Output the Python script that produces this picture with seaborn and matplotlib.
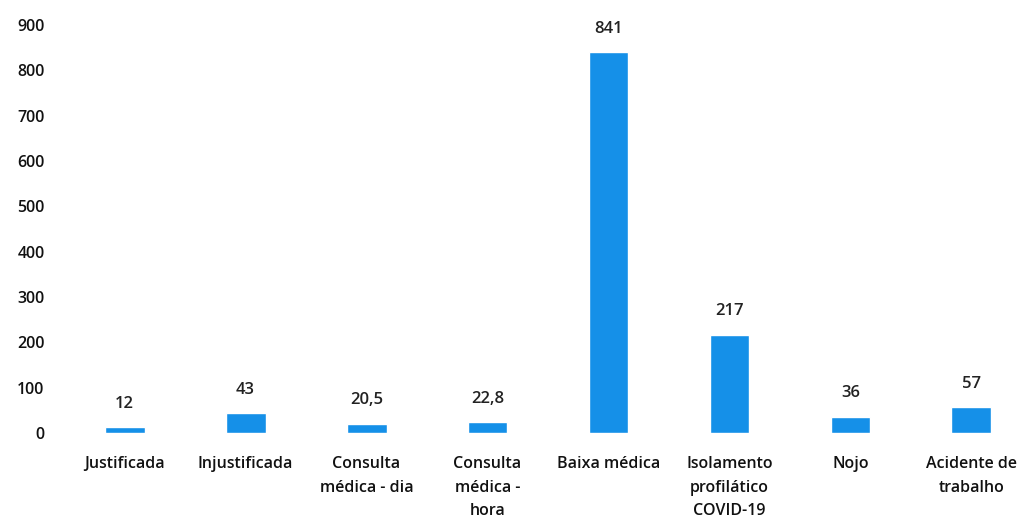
import matplotlib
matplotlib.use("Agg")
import pandas as pd
import seaborn as sns
import matplotlib.pyplot as plt

categorias = ["Justificada", "Injustificada", "Consulta\nmédica - dia", "Consulta\nmédica -\nhora",
              "Baixa médica", "Isolamento\nprofilático\nCOVID-19", "Nojo", "Acidente de\ntrabalho"]
valores = [12, 43, 20.5, 22.8, 841, 217, 36, 57]
yticks = [0, 100, 200, 300, 400, 500, 600, 700, 800, 900]

df = pd.DataFrame({"categoria": categorias, "valor": valores})

sns.set_style("white")
plt.rcParams["font.family"] = ["Open Sans", "DejaVu Sans"]

fig = plt.figure(figsize=(10.34, 5.24), dpi=100)
ax = fig.add_axes([0.062, 0.174, 0.936, 0.778])

sns.barplot(data=df, x="categoria", y="valor", color="#1590E8", width=0.33,
            saturation=1, ax=ax)

etiquetas = [f"{v:g}".replace(".", ",") for v in valores]
ax.bar_label(ax.containers[0], labels=etiquetas, padding=11, fontsize=12,
             fontweight="semibold", color="#222222")

ax.set_ylim(0, 900)
ax.set_yticks(yticks)
ax.set_xlabel("")
ax.set_ylabel("")
ax.tick_params(axis="both", length=0, labelsize=11.5, colors="#111111")
ax.tick_params(axis="x", pad=17)
ax.tick_params(axis="y", pad=14)
for lab in ax.get_xticklabels() + ax.get_yticklabels():
    lab.set_fontweight("semibold")
for lab in ax.get_xticklabels():
    lab.set_linespacing(1.6)
sns.despine(ax=ax, left=True, bottom=True)
ax.grid(False)

plt.savefig("out.png", dpi=100)
